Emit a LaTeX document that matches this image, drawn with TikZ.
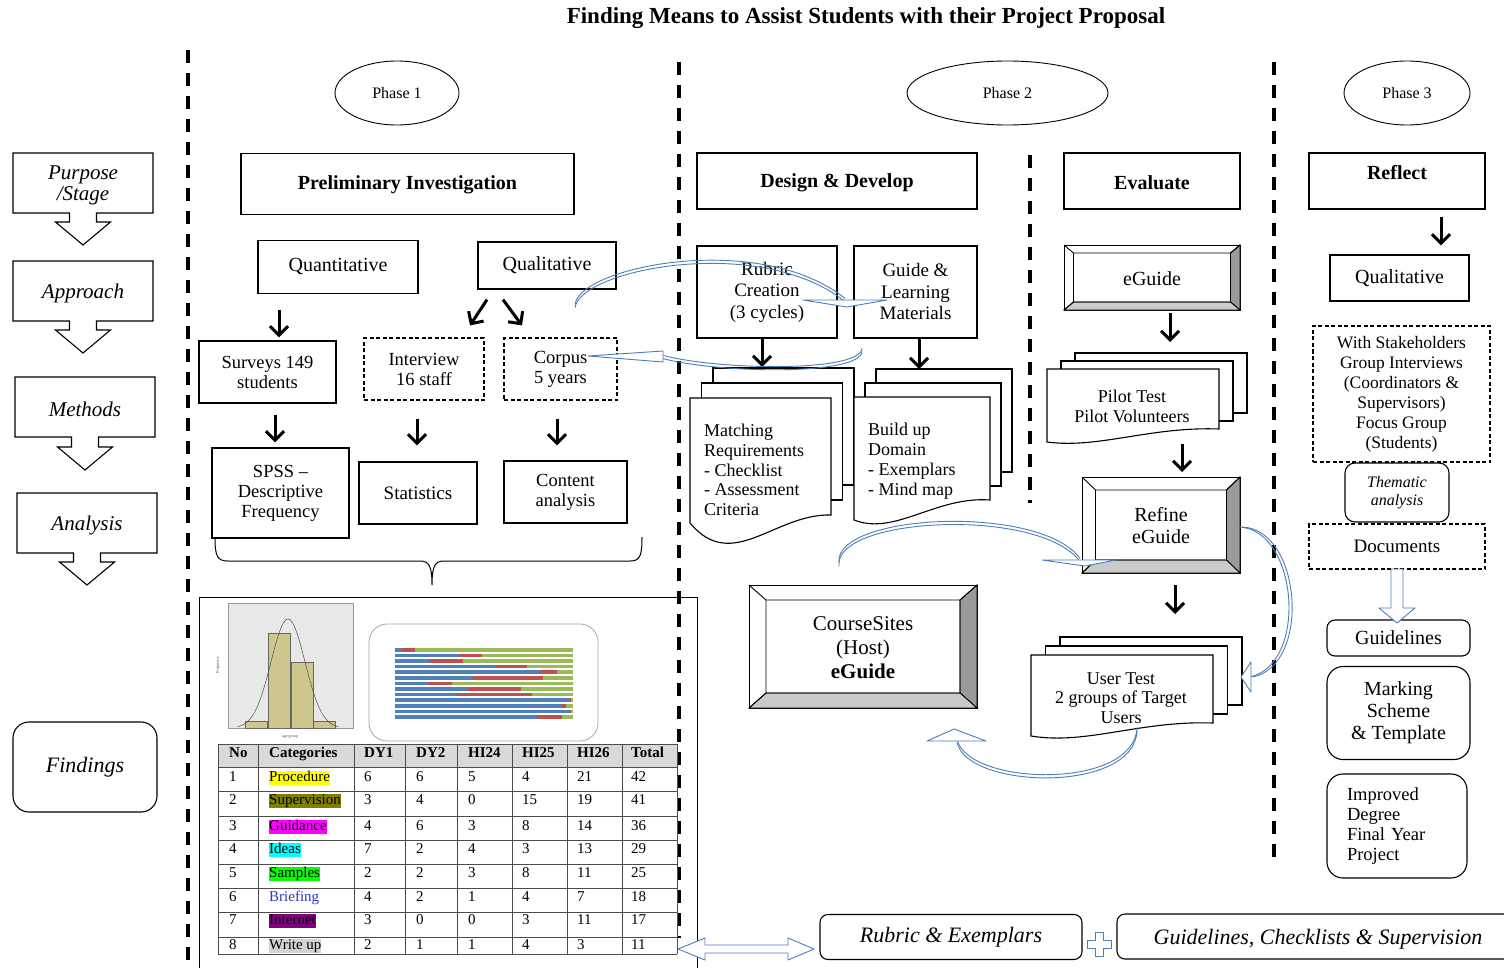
\documentclass[tikz,border=0pt]{standalone}
\usepackage{fontspec}
\setmainfont{Liberation Serif}
\usetikzlibrary{arrows.meta,shapes.geometric}
\definecolor{bluec}{HTML}{4A7EBB}
\definecolor{bevR}{HTML}{9A9A9A}
\definecolor{bevB}{HTML}{CACACA}
\definecolor{hdrgray}{HTML}{D9D9D9}
\definecolor{hlyellow}{HTML}{FFFF00}
\definecolor{hlolive}{HTML}{808000}
\definecolor{hlmagenta}{HTML}{FF00FF}
\definecolor{hlcyan}{HTML}{00FFFF}
\definecolor{hlgreen}{HTML}{00FF00}
\definecolor{hlpurple}{HTML}{800080}
\definecolor{hlgray}{HTML}{D3D3D3}
\definecolor{brief}{HTML}{3333BB}
\definecolor{histbg}{HTML}{E8E8E8}
\definecolor{histbar}{HTML}{CDC78E}
\definecolor{sbBlue}{HTML}{4F81BD}
\definecolor{sbRed}{HTML}{C0504D}
\definecolor{sbGreen}{HTML}{9BBB59}
\newcommand\fsz[2]{\fontsize{#1}{#2}\selectfont}
% stage box with arrow bottom: name x1 y1 x2 y2 tipy text
\newcommand\stagebox[7]{%
  \pgfmathsetmacro\stcx{(#2+#4)/2}%
  \pgfmathsetmacro\sthy{#6-23}%
  \draw[line width=1.1pt, fill=white, line join=miter] (#2,#3) -- (#4,#3) -- (#4,#5) -- ({\stcx+13.5},#5) -- ({\stcx+13.5},\sthy) -- ({\stcx+27.5},\sthy) -- (\stcx,#6) -- ({\stcx-27.5},\sthy) -- ({\stcx-13.5},\sthy) -- ({\stcx-13.5},#5) -- (#2,#5) -- cycle;
  \node[font=\fsz{21}{21}\itshape, align=center, inner sep=0pt] (#1) at (\stcx,{(#3+#5)/2+2}) {#7};
}
% bevel box: name x1 y1 x2 y2 dx dy text font
\newcommand\bevelbox[9]{%
  \filldraw[bevst, fill=white] (#2,#3) rectangle (#4,#5);
  \filldraw[bevst, fill=bevR] (#4,#3) -- (#4,#5) -- ({#4-#6},{#5-#7}) -- ({#4-#6},{#3+#7}) -- cycle;
  \filldraw[bevst, fill=bevB] (#2,#5) -- (#4,#5) -- ({#4-#6},{#5-#7}) -- ({#2+#6},{#5-#7}) -- cycle;
  \draw[bevst] (#2,#3) -- ({#2+#6},{#3+#7}) ({#2+#6},{#3+#7}) rectangle ({#4-#6},{#5-#7}) (#4,#3) -- ({#4-#6},{#3+#7}) (#2,#5) -- ({#2+#6},{#5-#7});
  \coordinate (#1-n) at ({(#2+#4)/2},#3);
  \coordinate (#1-s) at ({(#2+#4)/2},#5);
  \node[align=center, inner sep=0pt, font=#9] (#1) at ({(#2+#4)/2},{(#3+#5)/2+1}) {#8};
}
% multi document: name xl yt w h a dip dx dy
\newcommand\mdoc[9]{%
  \filldraw[mdst] ({#2+2*#8},{#3-2*#9}) rectangle ({#2+#4+2*#8},{#3+#5-2*#9});
  \filldraw[mdst] ({#2+#8},{#3-#9}) rectangle ({#2+#4+#8},{#3+#5-#9});
  \filldraw[mdst] (#2,#3) -- ({#2+#4},#3) -- ({#2+#4},{#3+#5}) .. controls ({#2+0.6*#4},{#3+#5-0.2*#6}) and ({#2+0.3*#4},{#3+#5+#6+2.3*#7}) .. (#2,{#3+#5+#6}) -- cycle;
  \coordinate (#1-n) at ({#2+0.5*#4+2*#8},{#3-2*#9});
  \coordinate (#1-s) at ({#2+0.5*#4},{#3+#5+#6});
}
\begin{document}
\begin{tikzpicture}[x=1pt,y=-1pt,
  bx/.style={draw, line width=1.3pt, inner sep=2pt, align=center, fill=white},
  dbx/.style={bx, dash pattern=on 4pt off 2.5pt, line width=1.2pt},
  rbx/.style={bx, rounded corners=12pt},
  vdash/.style={line width=3.8pt, dash pattern=on 13pt off 10pt},
  blk/.style={line width=3pt, -{Straight Barb[length=9pt,width=18pt,line width=3pt]}},
  blu/.style={draw=bluec, line width=0.9pt},
  bluehead/.style={draw=bluec, fill=white, line width=0.9pt, line join=round},
  ph/.style={draw, ellipse, line width=0.9pt, inner sep=0pt, font=\fsz{16}{16}},
  bevst/.style={line width=0.9pt, line join=miter},
  mdst/.style={draw, fill=white, line width=1.1pt},
  tbl/.style={line width=0.9pt, draw=black!70},
  tcell/.style={anchor=west, inner sep=0pt, font=\fsz{15}{15}, text height=11pt, text depth=3.5pt},
]
\useasboundingbox (0,0) rectangle (1504,968);
\fill[white] (0,0) rectangle (1504,968);

% title
\node[font=\fsz{23}{23}\bfseries] (title) at (866,18) {Finding Means to Assist Students with their Project Proposal};

% dashed separators
\draw[vdash] (188,50) -- (188,968);
\draw[vdash] (679,62) -- (679,938);
\draw[vdash] (1030,155) -- (1030,503);
\draw[vdash] (1274,62) -- (1274,862);

% phases
\node[ph, minimum width=124pt, minimum height=64pt] (ph1) at (397,93) {Phase 1};
\node[ph, minimum width=201pt, minimum height=64pt] (ph2) at (1007.5,93) {Phase 2};
\node[ph, minimum width=126pt, minimum height=64pt] (ph3) at (1407,93) {Phase 3};

% left column
\stagebox{purpose}{13}{153}{153}{213}{245}{Purpose\\/Stage}
\stagebox{approach}{13}{261}{153}{321}{353}{Approach}
\stagebox{methods}{15}{377}{155}{437}{470}{Methods}
\stagebox{analysis}{17}{493}{157}{553}{585}{Analysis}
\node[rbx, line width=1.1pt, rounded corners=16pt, minimum width=144pt, minimum height=90pt, font=\fsz{22}{22}\itshape] (findings) at (85,767) {Findings};

% ---------------- Phase 1 ----------------
\node[bx, minimum width=333pt, minimum height=61pt] (prelim) at (407.5,184) {};
\node[font=\fsz{20}{22}\bfseries, inner sep=0pt] (prelimt) at (407.5,185) {Preliminary Investigation};
\node[bx, minimum width=160pt, minimum height=53pt, font=\fsz{20}{22}] (quant) at (338,267) {Quantitative};
\node[bx, minimum width=138pt, minimum height=47pt, font=\fsz{20}{22}] (qual) at (547,265.5) {Qualitative};
\node[bx, minimum width=137pt, minimum height=62pt, font=\fsz{18.5}{20}] (surv) at (267.5,372) {Surveys 149\\students};
\node[dbx, minimum width=120pt, minimum height=62pt, font=\fsz{18.5}{20}] (interv) at (424,369) {Interview\\16 staff};
\node[dbx, minimum width=113pt, minimum height=62pt, font=\fsz{18.5}{20}] (corpus) at (560.5,369) {Corpus\\5 years};
\node[bx, minimum width=137pt, minimum height=90pt, font=\fsz{18.5}{20}] (spss) at (280.5,493) {SPSS --\\Descriptive\\Frequency};
\node[bx, minimum width=118pt, minimum height=62pt, font=\fsz{19}{20}] (stats) at (418,493) {Statistics};
\node[bx, minimum width=123pt, minimum height=62pt, font=\fsz{18.5}{20}] (content) at (565.5,492) {Content\\analysis};

\draw[blk, shorten <=16pt, shorten >=3pt] (quant.south -| 279,0) -- (surv.north -| 279,0);
\draw[blk] ([xshift=-60pt,yshift=-10pt]qual.south) -- ([xshift=46pt,yshift=12pt]interv.north);
\draw[blk] ([xshift=-44pt,yshift=-10pt]qual.south) -- ([xshift=-38.5pt,yshift=12pt]corpus.north);
\draw[blk, shorten <=11pt, shorten >=5pt] (surv.south -| 275,0) -- (spss.north -| 275,0);
\draw[blk, shorten <=18pt, shorten >=16pt] (interv.south -| 417,0) -- (stats.north -| 417,0);
\draw[blk, shorten <=18pt, shorten >=15pt] (corpus.south -| 557,0) -- (content.north -| 557,0);

% brace
\draw[line width=1pt] (215,537) .. controls (215,556) and (217,561) .. (228,561) -- (420,561) .. controls (429,561) and (432,566) .. (432,585) .. controls (432,566) and (435,561) .. (444,561) -- (630,561) .. controls (640,561) and (642,556) .. (642,537);

% findings panel
\draw[line width=0.8pt] (199,968) -- (199,597) -- (697,597) -- (697,968);

% histogram
\fill[histbg] (228,603) rectangle (353,728);
\draw[black!40, line width=0.5pt] (228,603) rectangle (353,728);
\foreach \bx/\by in {245/721,268/633,291/662,313/721}
  \filldraw[fill=histbar, draw=black!60, line width=0.5pt] (\bx,\by) rectangle ({\bx+22.5},728);
\draw[black!70, line width=0.5pt] plot[domain=238:338, samples=80, smooth] (\x,{728-109*exp(-((\x-288)^2)/578)});
\node[rotate=90, font=\fsz{4}{4}, text=black!70] (freq) at (218,665) {Frequency};
\node[font=\fsz{4}{4}, text=black!70] (agegrp) at (290,737) {age group};

% stacked bar chart
\draw[black!35, line width=0.8pt, rounded corners=18pt] (369,624) rectangle (598,741);
\foreach \i/\b/\r in {0/0.04/0.11,1/0.36/0.49,2/0.19/0.38,3/0.57/0.74,4/0.81/0.91,5/0.44/0.83,6/0.18/0.32,7/0.41/0.71,8/0.35/0.77,9/0.98/0.99,10/0.94/0.96,11/0.975/0.99,12/0.80/0.94}{
  \pgfmathsetmacro\yb{648+5.6*\i}
  \fill[sbBlue] (395,\yb) rectangle ({395+178*\b},{\yb+3.6});
  \fill[sbRed] ({395+178*\b},\yb) rectangle ({395+178*\r},{\yb+3.6});
  \fill[sbGreen] ({395+178*\r},\yb) rectangle (573,{\yb+3.6});
}

% table
\fill[hdrgray] (218,744) rectangle (677,767);
\foreach \yy in {744,767,791,816,840,864,888,912,937,954} \draw[tbl] (218,\yy) -- (677,\yy);
\foreach \xx in {218,258,354,405,457,512,567,622,677} \draw[tbl] (\xx,744) -- (\xx,954);
\foreach \xx/\t [count=\i] in {229/No,269/Categories,364/DY1,416/DY2,468/HI24,522/HI25,577/HI26,631/Total}
  \node[tcell, font=\fsz{15}{15}\bfseries] (th\i) at (\xx,754) {\t};
\foreach \n/\yy/\cat/\hl/\tc/\a/\b/\c/\d/\e/\f in {
  1/778/Procedure/hlyellow/black/6/6/5/4/21/42,
  2/801/Supervision/hlolive/black/3/4/0/15/19/41,
  3/827/Guidance/hlmagenta/black/4/6/3/8/14/36,
  4/850/Ideas/hlcyan/black/7/2/4/3/13/29,
  5/874/Samples/hlgreen/black/2/2/3/8/11/25,
  6/898/Briefing/none/brief/4/2/1/4/7/18,
  7/921/Internet/hlpurple/black/3/0/0/3/11/17,
  8/946/Write up/hlgray/black/2/1/1/4/3/11}{
  \node[tcell] (tn\n) at (229,\yy) {\n};
  \node[tcell, fill=\hl, text=\tc] (tc\n) at (269,\yy) {\cat};
  \node[tcell] (ta\n) at (364,\yy) {\a};
  \node[tcell] (tb\n) at (416,\yy) {\b};
  \node[tcell] (td\n) at (468,\yy) {\c};
  \node[tcell] (te\n) at (522,\yy) {\d};
  \node[tcell] (tf\n) at (577,\yy) {\e};
  \node[tcell] (tg\n) at (631,\yy) {\f};
}

% ---------------- Phase 2 ----------------
\node[bx, minimum width=280pt, minimum height=56pt] (design) at (837,181) {};
\node[font=\fsz{20}{22}\bfseries, inner sep=0pt] (designt) at (837,183) {Design \& Develop};
\node[bx, minimum width=176pt, minimum height=56pt] (evaluate) at (1152,181) {};
\node[font=\fsz{20}{22}\bfseries, inner sep=0pt] (evaluatet) at (1152,183) {Evaluate};
\node[bx, minimum width=140pt, minimum height=92pt, font=\fsz{19}{21.5}] (rubric) at (767,292) {Rubric\\Creation\\(3 cycles)};
\node[bx, minimum width=123pt, minimum height=92pt, font=\fsz{19}{21.5}] (guide) at (915.5,292) {Guide \&\\Learning\\Materials};

\mdoc{match}{690}{398}{141}{117}{8}{22}{11.5}{15}
\node[anchor=west, align=left, inner sep=0pt, font=\fsz{18}{19.8}] (matcht) at (704,470) {Matching\\Requirements\\- Checklist\\- Assessment\\Criteria};
\mdoc{build}{854}{397}{136}{103}{20}{7}{11}{14}
\node[anchor=west, align=left, inner sep=0pt, font=\fsz{18}{20}] (buildt) at (868,461) {Build up\\Domain\\- Exemplars\\- Mind map};

\draw[blk, shorten >=1pt] (rubric.south -| 762,0) -- (match-n -| 762,0);
\draw[blk] (guide.south -| 919,0) -- (build-n -| 919,0);

\bevelbox{course}{749}{585}{977}{708}{17}{15}{CourseSites\\(Host)\\\textbf{eGuide}}{\fsz{21}{24}}

% Evaluate column
\bevelbox{eguide}{1064}{245}{1240}{310}{9.5}{8}{eGuide}{\fsz{20}{22}}
\mdoc{pilot}{1047}{369}{172}{60}{13}{3}{14}{8}
\node[align=center, inner sep=0pt, font=\fsz{18}{20}] (pilott) at (1132,406) {Pilot Test\\Pilot Volunteers};
\bevelbox{refine}{1082}{477}{1240}{573}{13.5}{13}{Refine\\eGuide}{\fsz{20}{22}}
\mdoc{user}{1031}{655}{182}{68}{13}{4}{14.5}{9}
\node[align=center, inner sep=0pt, font=\fsz{18}{19.5}] (usert) at (1121,698) {User Test\\2 groups of Target\\Users};

\draw[blk, shorten <=3pt, shorten >=11pt] (eguide-s -| 1170,0) -- (pilot-n -| 1170,0);
\draw[blk, shorten <=2pt, shorten >=5pt] (pilot-s -| 1182,0) -- (refine-n -| 1182,0);
\draw[blk, shorten <=12pt, shorten >=23pt] (refine-s -| 1175,0) -- (user-n -| 1175,0);

% ---------------- Phase 3 ----------------
\node[bx, minimum width=176pt, minimum height=56pt] (reflect) at (1397,181) {};
\node[font=\fsz{20}{22}\bfseries, inner sep=0pt] (reflectt) at (1397,173) {Reflect};
\node[bx, minimum width=139pt, minimum height=46pt, font=\fsz{20}{22}] (qual3) at (1399.5,278) {Qualitative};
\draw[blk, shorten <=7pt, shorten >=9pt] (reflect.south -| 1441,0) -- (qual3.north -| 1441,0);
\node[dbx, minimum width=177pt, minimum height=136pt, font=\fsz{17.5}{20}] (stake) at (1401.5,394) {With Stakeholders\\Group Interviews\\(Coordinators \&\\Supervisors)\\Focus Group\\(Students)};
\node[rbx, line width=1.1pt, rounded corners=10pt, minimum width=104pt, minimum height=59pt, font=\fsz{16}{18}\itshape] (thematic) at (1397,492.5) {Thematic\\analysis};
\node[dbx, minimum width=176pt, minimum height=45pt, font=\fsz{19}{20}] (docs) at (1397,546.5) {Documents};
\node[rbx, line width=1.1pt, rounded corners=8pt, minimum width=143pt, minimum height=36pt, font=\fsz{20}{22}] (guidel) at (1398.5,638) {Guidelines};
\node[rbx, line width=1.1pt, rounded corners=16pt, minimum width=143pt, minimum height=93pt, font=\fsz{20}{22}] (marking) at (1398.5,713) {Marking\\Scheme\\\& Template};
\node[rbx, line width=1.1pt, rounded corners=16pt, minimum width=140pt, minimum height=104pt, text width=100pt, align=left, font=\fsz{18.5}{20}] (improved) at (1397,826) {Improved\\Degree\\Final Year\\Project};

% bottom boxes
\node[rbx, line width=1.1pt, rounded corners=8pt, minimum width=262pt, minimum height=45pt, font=\fsz{22}{22}\itshape] (rubex) at (951,937) {Rubric \& Exemplars};
\begin{scope}
\clip (0,0) rectangle (1504,968);
\draw[line width=1.1pt, rounded corners=8pt] (1117,914) rectangle (1530,959);
\node[font=\fsz{22}{22}\itshape, inner sep=0pt] (guidechk) at (1318,939) {Guidelines, Checklists \& Supervision};
\end{scope}

% ---------------- blue curved arrows (outlined bodies) ----------------
\foreach \s in {-1.6,1.6}{
  \draw[blu, transform canvas={yshift=\s pt}] (575,306) .. controls (580,268) and (760,232) .. (845,300);
  \draw[blu, transform canvas={yshift=\s pt}] (862,350) .. controls (860,374) and (720,372) .. (663,357);
  \draw[blu, transform canvas={yshift=\s pt}] (839,565) .. controls (832,515) and (1040,505) .. (1080,560);
  \draw[blu, transform canvas={xshift=\s pt}] (1241,527) .. controls (1300,530) and (1310,665) .. (1251,677);
  \draw[blu, transform canvas={yshift=\s pt}] (1137,729) .. controls (1135,792) and (968,788) .. (957,741);
}
\filldraw[bluehead] (803,300) -- (887,300) -- (847,307) -- cycle;
\filldraw[bluehead] (663,351) -- (663,362) -- (588,356) -- cycle;
\filldraw[bluehead] (1042,560) -- (1116,560) -- (1085,566) -- cycle;
\filldraw[bluehead] (1251,662) -- (1251,692) -- (1241,677) -- cycle;
\filldraw[bluehead] (927,741) -- (986,741) -- (954,729) -- cycle;
% block arrows
\filldraw[bluehead] (1391,569) -- (1403,569) -- (1403,608) -- (1415,608) -- (1397,623) -- (1379,608) -- (1391,608) -- cycle;
\filldraw[bluehead] (678,949) -- (705,938) -- (705,945) -- (788,945) -- (788,938) -- (814,949) -- (788,960) -- (788,953) -- (705,953) -- (705,960) -- cycle;
\filldraw[bluehead] (1095,932) -- (1103,932) -- (1103,940) -- (1111,940) -- (1111,948) -- (1103,948) -- (1103,956) -- (1095,956) -- (1095,948) -- (1087,948) -- (1087,940) -- (1095,940) -- cycle;
\end{tikzpicture}
\end{document}
